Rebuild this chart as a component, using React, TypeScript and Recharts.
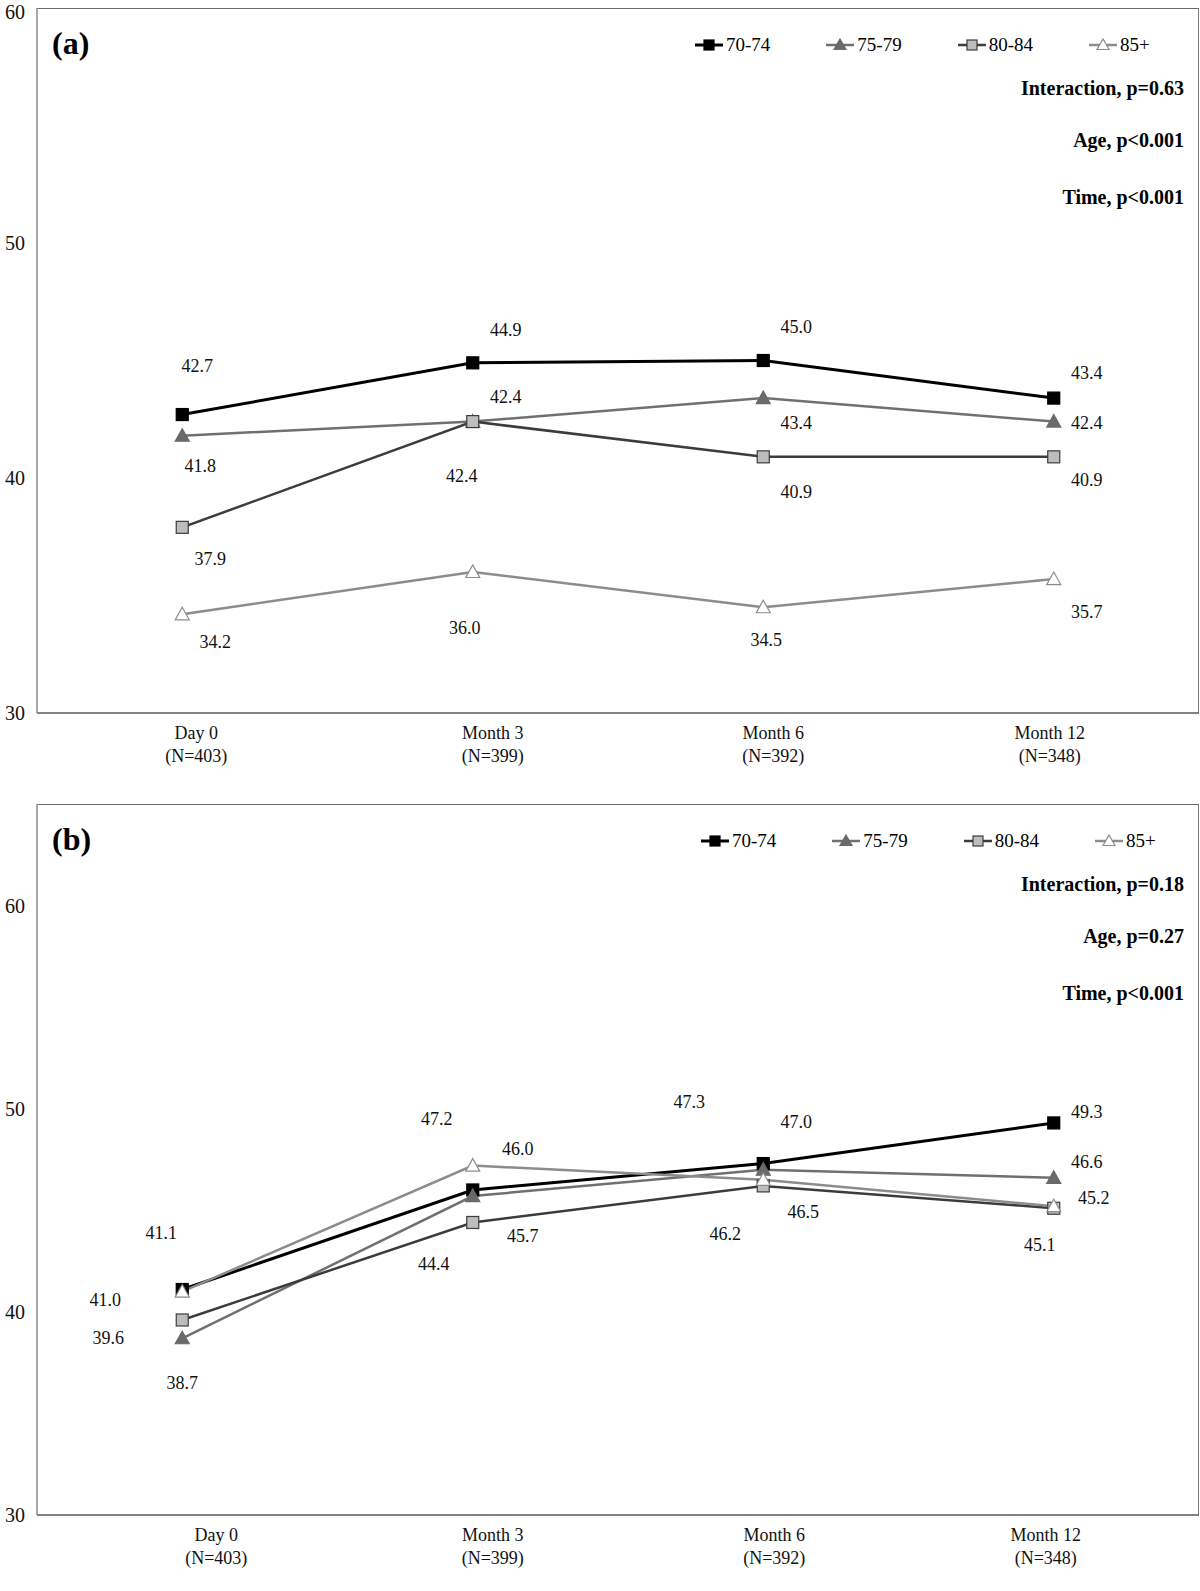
import React from 'react';
import { LineChart, Line, XAxis, YAxis, Legend } from 'recharts';

const FONT = '"Liberation Serif", "Times New Roman", serif';

// categories
const timepoints = ['Day 0', 'Month 3', 'Month 6', 'Month 12'];
const sampleSizes = ['(N=403)', '(N=399)', '(N=392)', '(N=348)'];
const ageGroups = ['70-74', '75-79', '80-84', '85+'];

// panel (a) values
const a70to74 = [42.7, 44.9, 45.0, 43.4];
const a75to79 = [41.8, 42.4, 43.4, 42.4];
const a80to84 = [37.9, 42.4, 40.9, 40.9];
const a85plus = [34.2, 36.0, 34.5, 35.7];

// panel (b) values
const b70to74 = [41.1, 46.0, 47.3, 49.3];
const b75to79 = [38.7, 45.7, 47.0, 46.6];
const b80to84 = [39.6, 44.4, 46.2, 45.1];
const b85plus = [41.0, 47.2, 46.5, 45.2];

const statsA = ['Interaction, p=0.63', 'Age, p<0.001', 'Time, p<0.001'];
const statsB = ['Interaction, p=0.18', 'Age, p=0.27', 'Time, p<0.001'];

const yTicksA = [30, 40, 50, 60];
const yTicksB = [30, 40, 50, 60];

const SERIES = [
  { key: 'g0', stroke: '#000000', width: 3, shape: 'square', fill: '#000000', edge: '#000000' },
  { key: 'g1', stroke: '#707070', width: 2.5, shape: 'triangle', fill: '#6a6a6a', edge: '#6a6a6a' },
  { key: 'g2', stroke: '#3c3c3c', width: 2.5, shape: 'square', fill: '#bdbdbd', edge: '#3c3c3c' },
  { key: 'g3', stroke: '#8c8c8c', width: 2.5, shape: 'triangle', fill: '#ffffff', edge: '#8c8c8c' },
];

// hand placement of the value labels (dx, dy from the point), like the original
const labelOffsetsA = [
  [[15, -49], [33, -33], [33, -34], [33, -25]],
  [[18, 30], [33, -25], [33, 25], [33, 1]],
  [[28, 32], [-11, 54], [33, 35], [33, 23]],
  [[33, 28], [-8, 56], [3, 33], [33, 33]],
];
const labelOffsetsB = [
  [[-21, -57], [45, -41], [-74, -62], [33, -11]],
  [[0, 45], [50, 40], [33, -48], [33, -16]],
  [[-74, 18], [-39, 42], [-38, 48], [-14, 37]],
  [[-77, 8], [-36, -47], [40, 32], [40, -8]],
];

const tickShiftA = [14, 20, 10, -4];
const tickShiftB = [34, 20, 11, -8];

const buildRows = (series: number[][]) =>
  timepoints.map((t, i) => ({
    t,
    g0: series[0][i],
    g1: series[1][i],
    g2: series[2][i],
    g3: series[3][i],
  }));

const rowsA = buildRows([a70to74, a75to79, a80to84, a85plus]);
const rowsB = buildRows([b70to74, b75to79, b80to84, b85plus]);

function Marker({ cx, cy, s, size = 12 }: any) {
  const h = size / 2;
  if (s.shape === 'square') {
    return <rect x={cx - h} y={cy - h} width={size} height={size} fill={s.fill} stroke={s.edge} strokeWidth={1.2} />;
  }
  return (
    <polygon
      points={`${cx},${cy - h - 1} ${cx + h + 1},${cy + h - 0.5} ${cx - h - 1},${cy + h - 0.5}`}
      fill={s.fill}
      stroke={s.edge}
      strokeWidth={1.2}
    />
  );
}

const LegendIcon = ({ s }: any) => (
  <svg width={28} height={14} style={{ display: 'block' }}>
    <line x1={0} y1={7} x2={28} y2={7} stroke={s.stroke} strokeWidth={s.width} />
    <Marker cx={14} cy={7} s={s} size={10} />
  </svg>
);

interface PanelProps {
  letter: string;
  rows: any[];
  yDomain: [number, number];
  yTicks: number[];
  offsets: number[][][];
  tickShift: number[];
  stats: string[];
  height: number;
  marginTop: number;
  xAxisHeight: number;
  legendLeft: number;
}

const Panel = ({ letter, rows, yDomain, yTicks, offsets, tickShift, stats, height, marginTop, xAxisHeight, legendLeft }: PanelProps) => {
  const plotLeft = 37;
  const plotRight = 1199;
  const plotBottom = height - xAxisHeight;
  const bandPad = (plotRight - plotLeft) / timepoints.length / 2;

  const renderTick = ({ x, y, payload, index }: any) => {
    const cx = x + tickShift[index];
    return (
      <text x={cx} y={y} textAnchor="middle" fontSize={18} fontFamily={FONT} fill="#111">
        <tspan x={cx} dy={26}>{payload.value}</tspan>
        <tspan x={cx} dy={23}>{sampleSizes[index]}</tspan>
      </text>
    );
  };

  const renderOverlay = () => (
    <div style={{ position: 'relative', width: 1200, height: 0, fontFamily: FONT, color: '#000' }}>
      <div style={{ position: 'absolute', left: 52, top: marginTop + 35 - 20, fontSize: 32, fontWeight: 'bold', lineHeight: '40px' }}>
        ({letter})
      </div>
      <div style={{ position: 'absolute', left: legendLeft, top: marginTop + 37 - 11, display: 'flex', alignItems: 'center', fontSize: 19, lineHeight: '22px' }}>
        {ageGroups.map((g, i) => (
          <div key={g} style={{ display: 'flex', alignItems: 'center', marginRight: i < 3 ? 56 : 0 }}>
            <LegendIcon s={SERIES[i]} />
            <span style={{ marginLeft: 3 }}>{g}</span>
          </div>
        ))}
      </div>
      {stats.map((txt, i) => (
        <div
          key={txt}
          style={{
            position: 'absolute',
            right: 1200 - 1184,
            top: marginTop + [80, 132, 189][i] - 11,
            fontSize: 20,
            fontWeight: 'bold',
            lineHeight: '22px',
            whiteSpace: 'nowrap',
          }}
        >
          {txt}
        </div>
      ))}
    </div>
  );

  return (
    <div style={{ position: 'relative', width: 1200, height }}>
      <div
        style={{
          position: 'absolute',
          left: plotLeft,
          top: marginTop,
          width: plotRight - plotLeft,
          height: plotBottom - marginTop,
          borderTop: '1.5px solid #6a6a6a',
          borderRight: '1.5px solid #7a7a7a',
          boxSizing: 'border-box',
        }}
      />
      <LineChart width={1200} height={height} data={rows} margin={{ top: marginTop, right: 1, left: 0, bottom: 0 }}>
        <XAxis
          dataKey="t"
          height={xAxisHeight}
          padding={{ left: bandPad, right: bandPad }}
          tickLine={false}
          tickSize={0}
          tickMargin={0}
          axisLine={{ stroke: '#5a5a5a', strokeWidth: 1.5 }}
          tick={renderTick}
          interval={0}
        />
        <YAxis
          width={plotLeft}
          domain={yDomain}
          ticks={yTicks}
          type="number"
          allowDataOverflow
          tickLine={false}
          tickSize={0}
          tickMargin={12}
          axisLine={{ stroke: '#8c8c8c', strokeWidth: 1.5 }}
          tick={{ fontSize: 20, fontFamily: FONT, fill: '#111' }}
        />
        <Legend verticalAlign="middle" align="center" wrapperStyle={{ top: 0, left: 0, width: 1200 }} content={renderOverlay} />
        {SERIES.map((s, si) => (
          <Line
            key={s.key}
            dataKey={s.key}
            name={ageGroups[si]}
            stroke={s.stroke}
            strokeWidth={s.width}
            isAnimationActive={false}
            activeDot={false}
            dot={(p: any) => {
              const [dx, dy] = offsets[si][p.index];
              const v = p.payload[s.key];
              return (
                <g key={`${s.key}-${p.index}`}>
                  <Marker cx={p.cx} cy={p.cy} s={s} />
                  <text
                    x={p.cx + dx}
                    y={p.cy + dy}
                    textAnchor="middle"
                    dominantBaseline="central"
                    fontSize={18}
                    fontFamily={FONT}
                    fill="#111"
                  >
                    {Number(v).toFixed(1)}
                  </text>
                </g>
              );
            }}
          />
        ))}
      </LineChart>
    </div>
  );
}

export default function App() {
  return (
    <div style={{ position: 'absolute', top: 0, left: 0, width: 1200, height: 1591, background: '#fff' }}>
      <Panel
        letter="a"
        rows={rowsA}
        yDomain={[30, 60]}
        yTicks={yTicksA}
        offsets={labelOffsetsA}
        tickShift={tickShiftA}
        stats={statsA}
        height={790}
        marginTop={8}
        xAxisHeight={77}
        legendLeft={695}
      />
      <Panel
        letter="b"
        rows={rowsB}
        yDomain={[30, 65]}
        yTicks={yTicksB}
        offsets={labelOffsetsB}
        tickShift={tickShiftB}
        stats={statsB}
        height={801}
        marginTop={14}
        xAxisHeight={76}
        legendLeft={701}
      />
    </div>
  );
}
